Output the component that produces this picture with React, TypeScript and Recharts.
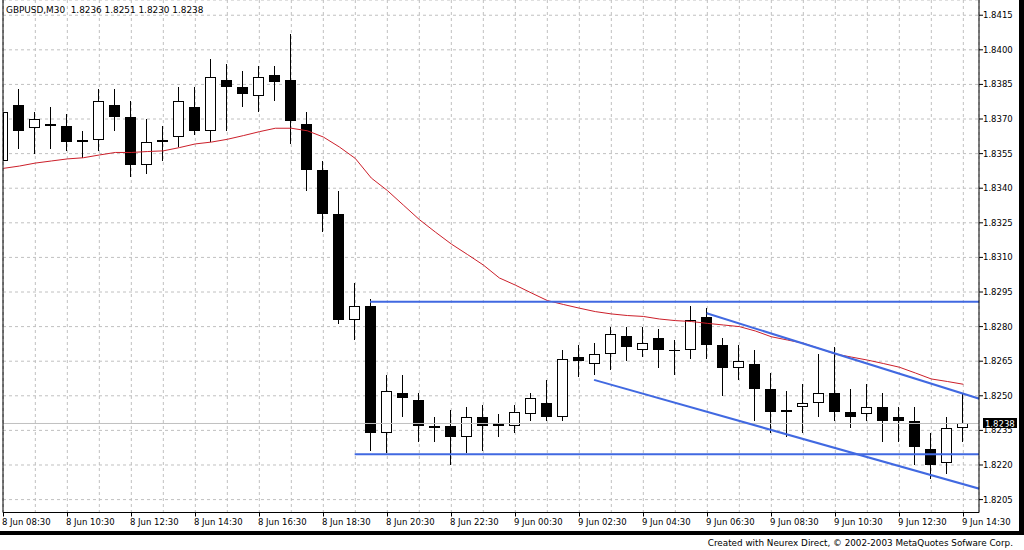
import React from "react";
import {
  ComposedChart,
  Bar,
  Line,
  XAxis,
  YAxis,
  CartesianGrid,
  ReferenceLine,
} from "recharts";

// GBPUSD M30, 8 Jun 08:30 .. 9 Jun 14:30 (one bar per 30 min)
const symbol = "GBPUSD,M30";

const opens = [
  1.8352, 1.8376, 1.8366, 1.8368, 1.8367, 1.8361, 1.8361, 1.8376, 1.8371, 1.835,
  1.836, 1.8362, 1.8375, 1.8365, 1.8387, 1.8384, 1.838, 1.8389, 1.8387, 1.8368,
  1.8348, 1.8329, 1.8283, 1.8289, 1.8234, 1.8251, 1.8248, 1.8237, 1.8237, 1.8232,
  1.8241, 1.8238, 1.8237, 1.8242, 1.8247, 1.8241, 1.8267, 1.8264, 1.8268, 1.8276,
  1.827, 1.8275, 1.827, 1.827, 1.8284, 1.8272, 1.8262, 1.8264, 1.8253, 1.8243,
  1.8245, 1.8247, 1.8251, 1.8243, 1.8242, 1.8245, 1.8241, 1.8239, 1.8227, 1.8221,
  1.8236,
];
const highs = [
  1.8386, 1.8383, 1.8373, 1.8375, 1.8372, 1.8365, 1.8383, 1.8383, 1.8378, 1.837,
  1.8367, 1.8384, 1.8384, 1.8396, 1.8394, 1.8391, 1.8393, 1.8393, 1.8407, 1.8373,
  1.8352, 1.8339, 1.8299, 1.8292, 1.8259, 1.8259, 1.8251, 1.8241, 1.8244, 1.8245,
  1.8246, 1.8242, 1.8246, 1.8251, 1.8257, 1.827, 1.8272, 1.8273, 1.828, 1.828,
  1.828, 1.8279, 1.8274, 1.8289, 1.8288, 1.8275, 1.8272, 1.827, 1.826, 1.8252,
  1.8255, 1.8268, 1.8271, 1.8253, 1.8255, 1.8251, 1.8245, 1.8245, 1.8234, 1.8241,
  1.8251,
];
const lows = [
  1.8346, 1.8357, 1.8355, 1.8357, 1.8356, 1.8353, 1.8356, 1.8365, 1.8345, 1.8346,
  1.8352, 1.8358, 1.8363, 1.836, 1.8365, 1.8375, 1.8373, 1.8378, 1.8359, 1.8339,
  1.8321, 1.8281, 1.8274, 1.8226, 1.8225, 1.8241, 1.823, 1.823, 1.822, 1.8225,
  1.8226, 1.8232, 1.8234, 1.8239, 1.8239, 1.8239, 1.8258, 1.8259, 1.8261, 1.8265,
  1.8267, 1.8262, 1.8259, 1.8266, 1.8266, 1.825, 1.8257, 1.8239, 1.8234, 1.8232,
  1.8234, 1.8241, 1.8239, 1.8236, 1.8239, 1.823, 1.823, 1.822, 1.8214, 1.8216,
  1.823,
];
const closes = [
  1.8373, 1.8365, 1.837, 1.8367, 1.836, 1.836, 1.8378, 1.8371, 1.835, 1.836,
  1.8361, 1.8378, 1.8365, 1.8388, 1.8384, 1.8381, 1.8388, 1.8386, 1.8369, 1.8348,
  1.8329, 1.8283, 1.8289, 1.8234, 1.8252, 1.8249, 1.8237, 1.8236, 1.8232, 1.8241,
  1.8237, 1.8237, 1.8243, 1.8249, 1.8241, 1.8266, 1.8265, 1.8268, 1.8277, 1.8271,
  1.8273, 1.827, 1.827, 1.8283, 1.8272, 1.8262, 1.8265, 1.8253, 1.8243, 1.8244,
  1.8247, 1.8251, 1.8243, 1.8241, 1.8245, 1.8239, 1.8239, 1.8228, 1.822, 1.8236,
  1.8238,
];
// moving average (red)
const maValues = [
  1.83486, 1.83496, 1.83509, 1.83518, 1.83527, 1.83532, 1.83544, 1.83555, 1.83555, 1.83559,
  1.83562, 1.83576, 1.83592, 1.836, 1.83612, 1.83628, 1.83645, 1.8366, 1.8366, 1.83649,
  1.83622, 1.83579, 1.83529, 1.83444, 1.8339, 1.83327, 1.83264, 1.8321, 1.83158, 1.83113,
  1.83067, 1.83011, 1.8298, 1.82946, 1.82913, 1.82896, 1.8288, 1.82865, 1.82855, 1.82848,
  1.82844, 1.82833, 1.82826, 1.82822, 1.82814, 1.82807, 1.828, 1.82781, 1.82756, 1.82742,
  1.82728, 1.82705, 1.82681, 1.82668, 1.82655, 1.8264, 1.82624, 1.82599, 1.82573, 1.82562,
  1.8255,
];

const tickLabels = [
  "8 Jun 08:30", "8 Jun 10:30", "8 Jun 12:30", "8 Jun 14:30", "8 Jun 16:30",
  "8 Jun 18:30", "8 Jun 20:30", "8 Jun 22:30", "9 Jun 00:30", "9 Jun 02:30",
  "9 Jun 04:30", "9 Jun 06:30", "9 Jun 08:30", "9 Jun 10:30", "9 Jun 12:30",
  "9 Jun 14:30",
];
const priceTicks = [
  1.8205, 1.822, 1.8235, 1.825, 1.8265, 1.828, 1.8295, 1.831, 1.8325, 1.834,
  1.8355, 1.837, 1.8385, 1.84, 1.8415,
];

// hand-drawn trend lines, [barIndex, price]
const trendLines = [
  [[22.92, 1.82908], [61.05, 1.82908]],
  [[21.96, 1.82247], [61.05, 1.82247]],
  [[36.92, 1.82569], [61.05, 1.82096]],
  [[43.96, 1.82858], [61.05, 1.82486]],
];

const data = opens.map((open, i) => ({
  i,
  open,
  high: highs[i],
  low: lows[i],
  close: closes[i],
  ma: maValues[i],
}));
const last = data[data.length - 1];

const X_DOMAIN = [-0.02, 60.98];
const Y_DOMAIN = [1.81994, 1.84216];
const BARS_PER_LABEL = 4;
const gridTicks = data.filter((d) => d.i % 2 === 0).map((d) => d.i);
const PLOT_LEFT = 3;
const FONT = "DejaVu Sans, sans-serif";

const Candle = (props: any) => {
  const { x, y, width, height, payload } = props;
  if (!payload || !height) return null;
  const { open, close, high, low } = payload;
  const k = height / (high - low);
  const cx = Math.floor(x + width / 2) + 0.5;
  const yO = y + (high - open) * k;
  const yC = y + (high - close) * k;
  const top = Math.round(Math.min(yO, yC));
  const bottom = Math.round(Math.max(yO, yC));
  const left = Math.max(cx - 5.5, PLOT_LEFT);
  const right = cx + 5.5;
  const up = close > open;
  return (
    <g>
      <line x1={cx} x2={cx} y1={Math.round(y)} y2={Math.round(y + height)} stroke="#000" strokeWidth={1} />
      {up && bottom - top >= 2 ? (
        <rect x={left + 0.5} y={top + 0.5} width={right - left - 1} height={bottom - top - 1} fill="#fff" stroke="#000" strokeWidth={1} />
      ) : (
        <rect x={left} y={top} width={right - left} height={Math.max(bottom - top, 1)} fill="#000" />
      )}
    </g>
  );
};

const TimeTick = (props: any) => {
  const { x, y, payload } = props;
  const idx = payload.value;
  if (idx % BARS_PER_LABEL !== 0) return null;
  const px = Math.floor(x) + 0.5;
  return (
    <g>
      <line x1={px} x2={px} y1={y} y2={y + 4} stroke="#000" />
      <text x={px - 1.5} y={y + 12.5} fontSize={8.5} fontFamily={FONT} fill="#000" textAnchor="start">
        {tickLabels[idx / BARS_PER_LABEL]}
      </text>
    </g>
  );
};

const PriceBox = (props: any) => {
  const vb = props.viewBox;
  if (!vb) return null;
  const bx = vb.x + vb.width + 4;
  return (
    <g>
      <rect x={bx} y={Math.round(vb.y) - 5} width={34} height={10} fill="#000" />
      <text x={bx + 2} y={Math.round(vb.y) + 3.5} fontSize={8.5} fontFamily={FONT} fill="#fff">
        {last.close.toFixed(4)}
      </text>
    </g>
  );
};

export default function App() {
  return (
    <div style={{ position: "relative", width: 1024, height: 550, background: "#fff", fontFamily: FONT }}>
      <style>{`body{margin:0}`}</style>
      <ComposedChart width={1024} height={535} data={data} margin={{ top: 0, right: 0, bottom: 0, left: 0 }}>
        <CartesianGrid yAxisId="R" stroke="#c0c0c0" strokeDasharray="3 3" />
        <XAxis
          dataKey="i"
          type="number"
          domain={X_DOMAIN}
          allowDataOverflow
          ticks={gridTicks}
          interval={0}
          height={22.5}
          tickSize={0}
          tickMargin={0}
          tick={<TimeTick />}
          axisLine={{ stroke: "#000" }}
          tickLine={false}
        />
        <YAxis
          yAxisId="L"
          orientation="left"
          type="number"
          domain={Y_DOMAIN}
          allowDataOverflow
          width={3}
          tick={false}
          tickLine={false}
          axisLine={{ stroke: "#000" }}
        />
        <YAxis
          yAxisId="R"
          orientation="right"
          type="number"
          domain={Y_DOMAIN}
          allowDataOverflow
          ticks={priceTicks}
          interval={0}
          width={45}
          tickSize={4}
          tickMargin={0}
          tickFormatter={(v: number) => v.toFixed(4)}
          tick={{ fontSize: 8.5, fill: "#000", fontFamily: FONT }}
          axisLine={{ stroke: "#000" }}
          tickLine={{ stroke: "#000" }}
        />
        <ReferenceLine yAxisId="R" y={last.close} stroke="#c0c0c0" />
        <Line
          yAxisId="R"
          dataKey="ma"
          stroke="#cc1f2a"
          strokeWidth={1}
          dot={false}
          activeDot={false}
          isAnimationActive={false}
        />
        <Bar
          yAxisId="R"
          dataKey={(d: any) => [d.low, d.high]}
          barSize={11}
          shape={<Candle />}
          isAnimationActive={false}
        />
        {trendLines.map((seg, k) => (
          <ReferenceLine
            key={k}
            yAxisId="R"
            segment={[
              { x: seg[0][0], y: seg[0][1] },
              { x: seg[1][0], y: seg[1][1] },
            ]}
            ifOverflow="hidden"
            stroke="#4169e1"
            strokeWidth={2}
          />
        ))}
        <ReferenceLine yAxisId="R" y={last.close} stroke="none" label={<PriceBox />} />
      </ComposedChart>
      <div
        style={{
          position: "absolute",
          left: 6,
          top: 5,
          fontSize: 8.9,
          lineHeight: "10px",
          whiteSpace: "pre",
          color: "#000",
        }}
      >
        {`${symbol}  ${last.open.toFixed(4)} ${last.high.toFixed(4)} ${last.low.toFixed(4)} ${last.close.toFixed(4)}`}
      </div>
      <div style={{ position: "absolute", left: 0, top: 531, width: 1024, height: 4, background: "#000" }} />
      <div style={{ position: "absolute", left: 1019, top: 0, width: 5, height: 535, background: "#000" }} />
      <div
        style={{
          position: "absolute",
          right: 11,
          top: 538,
          fontSize: 8.8,
          lineHeight: "10px",
          whiteSpace: "pre",
          color: "#000",
        }}
      >
        Created with Neurex Direct, © 2002-2003 MetaQuotes Sofware Corp.
      </div>
    </div>
  );
}
